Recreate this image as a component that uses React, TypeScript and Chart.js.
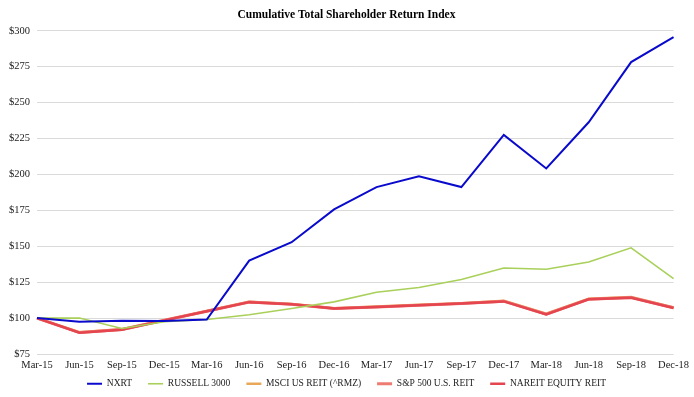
import React, { useEffect, useRef } from "react";
import { Chart, registerables } from "chart.js";

Chart.register(...registerables);

const categories = [
  "Mar-15", "Jun-15", "Sep-15", "Dec-15", "Mar-16", "Jun-16", "Sep-16", "Dec-16",
  "Mar-17", "Jun-17", "Sep-17", "Dec-17", "Mar-18", "Jun-18", "Sep-18", "Dec-18",
];

const nxrt = [100, 97.4, 98.1, 98, 99, 140, 152.8, 175.7, 191.2, 198.8, 191.2, 227.5, 204.2, 236.3, 278.2, 295.6];
const russell3000 = [100, 100, 92.8, 97.5, 99, 102.3, 106.7, 111.3, 118, 121.3, 126.9, 134.9, 134, 139, 148.9, 127.5];
const msciReit = [100, 90.1, 92.2, 98.6, 104.9, 111.4, 109.8, 106.9, 108.0, 109.2, 110.4, 112.0, 103.0, 113.4, 114.6, 107.4];
const sp500Reit = [100, 89.9, 92.0, 98.5, 104.8, 111.2, 109.7, 106.7, 107.8, 109.0, 110.2, 111.8, 102.8, 113.2, 114.4, 107.2];
const nareitEquity = [100, 89.8, 91.9, 98.4, 104.8, 111.1, 109.6, 106.6, 107.7, 108.9, 110.1, 111.6, 102.6, 113.1, 114.2, 107.0];

const yTicks = [75, 100, 125, 150, 175, 200, 225, 250, 275, 300];

const FONT = "'Liberation Serif', 'Times New Roman', serif";

const legendShift = {
  id: "legendShift",
  afterLayout(chart: any) {
    const lg = chart.legend;
    if (lg) {
      lg.top -= 9;
      lg.bottom -= 9;
    }
  },
};

export default function App() {
  const ref = useRef<HTMLCanvasElement | null>(null);

  useEffect(() => {
    document.body.style.margin = "0";
    const canvas = ref.current;
    if (!canvas) return;
    const chart = new Chart(canvas, {
      type: "line",
      data: {
        labels: categories,
        datasets: [
          { label: "NXRT", data: nxrt, borderColor: "#0A0ACC", backgroundColor: "#0A0ACC", borderWidth: 2, order: 1 },
          { label: "RUSSELL 3000", data: russell3000, borderColor: "#A9D05A", backgroundColor: "#A9D05A", borderWidth: 1.6, order: 2 },
          { label: "MSCI US REIT (^RMZ)", data: msciReit, borderColor: "#E9A858", backgroundColor: "#E9A858", borderWidth: 2.5, order: 5 },
          { label: "S&P 500 U.S. REIT", data: sp500Reit, borderColor: "#EC7B72", backgroundColor: "#EC7B72", borderWidth: 3, order: 4 },
          { label: "NAREIT EQUITY REIT", data: nareitEquity, borderColor: "#E5454F", backgroundColor: "#E5454F", borderWidth: 2.5, order: 3 },
        ],
      },
      plugins: [legendShift],
      options: {
        animation: false,
        responsive: false,
        maintainAspectRatio: false,
        layout: { padding: { left: 2, right: 3, top: 0, bottom: 0 } },
        elements: { point: { radius: 0 }, line: { tension: 0 } },
        plugins: {
          title: {
            display: true,
            text: "Cumulative Total Shareholder Return Index",
            color: "#000",
            font: { family: FONT, size: 11.5, weight: "bold" },
            padding: { top: 8, bottom: 9 },
          },
          legend: {
            position: "bottom",
            maxHeight: 25,
            labels: {
              usePointStyle: true,
              pointStyle: "line",
              pointStyleWidth: 15,
              boxHeight: 2,
              padding: 16,
              color: "#222",
              font: { family: FONT, size: 9.5 },
              sort: (a: any, b: any) => a.datasetIndex - b.datasetIndex,
            },
          },
          tooltip: { enabled: false },
        },
        scales: {
          x: {
            offset: false,
            afterFit: (scale: any) => {
              scale.height = 18;
            },
            grid: { display: false, drawTicks: false },
            border: { display: false },
            ticks: {
              color: "#222",
              font: { family: FONT, size: 10.5 },
              padding: 5,
              maxRotation: 0,
              autoSkip: false,
            },
          },
          y: {
            min: 75,
            max: 300,
            afterBuildTicks: (axis: any) => {
              axis.ticks = yTicks.map((v) => ({ value: v }));
            },
            grid: { color: "#DADADA", lineWidth: 1, drawTicks: false },
            border: { display: false },
            ticks: {
              color: "#222",
              font: { family: FONT, size: 10.5 },
              padding: 7,
              callback: (v: any) => "$" + v,
            },
          },
        },
      },
    });
    return () => chart.destroy();
  }, []);

  return (
    <div style={{ width: 694, height: 397 }}>
      <canvas ref={ref} width={694} height={397} style={{ width: 694, height: 397, display: "block" }} />
    </div>
  );
}
